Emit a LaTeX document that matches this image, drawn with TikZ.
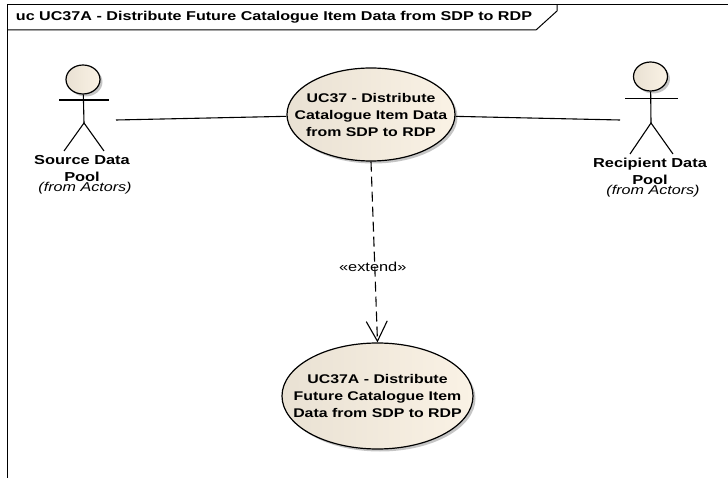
\documentclass[tikz,border=0pt]{standalone}
\usepackage{fontspec}
\setmainfont[FakeStretch=1.26]{Liberation Sans}
\usetikzlibrary{arrows.meta}
\usetikzlibrary{shapes.geometric}
\usetikzlibrary{shadows}
\definecolor{usecaseL}{RGB}{233,225,211}
\definecolor{usecaseR}{RGB}{250,242,229}
\tikzset{
  usecase/.style={ellipse, draw=black, line width=1.2pt, inner sep=0pt, left color=usecaseL, right color=usecaseR,
    drop shadow={shadow xshift=2.5pt, shadow yshift=-2.5pt, fill=black!45}},
  usetext/.style={align=center, inner sep=0pt, font=\fontsize{12.6}{17}\selectfont\bfseries},
  actorhead/.style={ellipse, draw=black, line width=1.2pt, inner sep=0pt, minimum width=34pt, minimum height=29pt,
    left color=usecaseL, right color=usecaseR, drop shadow={shadow xshift=2.5pt, shadow yshift=-2.5pt, fill=black!45}},
  actorname/.style={align=center, inner sep=0pt, font=\fontsize{13}{17}\selectfont\bfseries},
  fromnote/.style={inner sep=0pt, font=\fontsize{12.8}{14}\selectfont\itshape},
  stick/.style={draw=black, line width=1.1pt},
  assoc/.style={draw=black, line width=1.1pt}
}
\begin{document}
\begin{tikzpicture}[x=1pt,y=-1pt]
     \useasboundingbox (0,0) rectangle (728,478);
     % frame
     \draw[black, line width=1pt] (7,478) -- (7,4.5) -- (728,4.5);
     \draw[black, line width=1pt] (7,30) -- (536,30) -- (557,11) -- (557,4.5);
     \node[inner sep=0pt, font=\fontsize{12.8}{14}\selectfont\bfseries] (title) at (274,17.5) {uc UC37A - Distribute Future Catalogue Item Data from SDP to RDP};

     % use cases
     \node[usecase, minimum width=168pt, minimum height=93pt] (uc37) at (371,114.5) {};
     \node[usetext] (uc37text) at (uc37) {UC37 - Distribute\\Catalogue Item Data\\from SDP to RDP};
     \node[usecase, minimum width=191pt, minimum height=106pt] (uc37a) at (377.5,396) {};
     \node[usetext] (uc37atext) at (uc37a) {UC37A - Distribute\\Future Catalogue Item\\Data from SDP to RDP};

     % source actor
     \node[actorhead] (srchead) at (83,79.5) {};
     \coordinate (srchip) at (84,123);
     \coordinate (srcend) at (116,120);
     \draw[stick] (59,100) -- (109,100);
     \draw[stick] (srchead) -- (srchip);
     \draw[stick] (64,151) -- (srchip) -- (104,151);
     \node[actorname] (srcname) at (82,169) {Source Data\\Pool};
     \node[fromnote] (srcfrom) at (85,188) {(from Actors)};

     % recipient actor
     \node[actorhead] (rcphead) at (650.5,76.5) {};
     \coordinate (rcphip) at (651,123);
     \coordinate (rcpend) at (620,120);
     \draw[stick] (625,98.7) -- (678,98.7);
     \draw[stick] (rcphead) -- (rcphip);
     \draw[stick] (630,154) -- (rcphip) -- (673,154);
     \node[actorname] (rcpname) at (650,171.5) {Recipient Data\\Pool};
     \node[fromnote] (rcpfrom) at (653,191.5) {(from Actors)};

     % connectors
     \draw[assoc] (srcend) -- (uc37);
     \draw[assoc] (uc37) -- (rcpend);
     \draw[assoc, dash pattern=on 10pt off 5pt, -{Straight Barb[length=20pt,width=21pt,line width=1.1pt]}] (uc37.south) -- (uc37a.north)
       node[pos=0.58, xshift=-2pt, inner sep=0pt, solid, font=\fontsize{13}{14}\selectfont] (extlabel) {«extend»};
\end{tikzpicture}
\end{document}
